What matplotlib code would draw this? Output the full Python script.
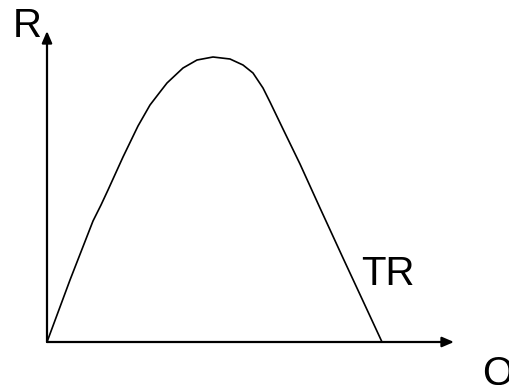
import matplotlib
matplotlib.use("Agg")
import matplotlib.pyplot as plt

# Total revenue curve (Q, R)
q_vals = [0, 23, 46, 54, 61, 76, 91, 103, 113, 120, 136, 150, 166, 183, 196, 206, 216, 223, 236, 253, 273, 296, 316, 335]
r_vals = [0, 62, 121, 137, 152, 185, 216, 237, 250, 259, 274, 282, 285, 283, 277, 269, 254, 240, 213, 178, 134, 84, 41, 0]

W, H = 509, 385
fig = plt.figure(figsize=(W / 100, H / 100), dpi=100)
ax = fig.add_axes([47 / W, (H - 342) / H, 407 / W, 311 / H])
ax.set_xlim(0, 407)
ax.set_ylim(0, 311)
ax.axis("off")

ax.plot(q_vals, r_vals, color="black", lw=1.2, solid_joinstyle="round")

arrow = dict(arrowstyle="-|>,head_length=0.7,head_width=0.3", color="black", lw=1.6,
             shrinkA=0, shrinkB=0)
ax.annotate("", xy=(1, 0), xytext=(0, 0), xycoords="axes fraction", arrowprops=arrow)
ax.annotate("", xy=(0, 1), xytext=(0, 0), xycoords="axes fraction", arrowprops=arrow)

font = dict(family=["Liberation Sans", "DejaVu Sans"], color="black")
fig.text(13 / W, 1 - 37 / H, "R", fontsize=29, va="baseline", ha="left", **font)
fig.text(361 / W, 1 - 285 / H, "TR", fontsize=29, va="baseline", ha="left", **font)
fig.text(482 / W, 1 - 384 / H, "Q", fontsize=29, va="baseline", ha="left", **font)

fig.savefig("out.png", dpi=100)
